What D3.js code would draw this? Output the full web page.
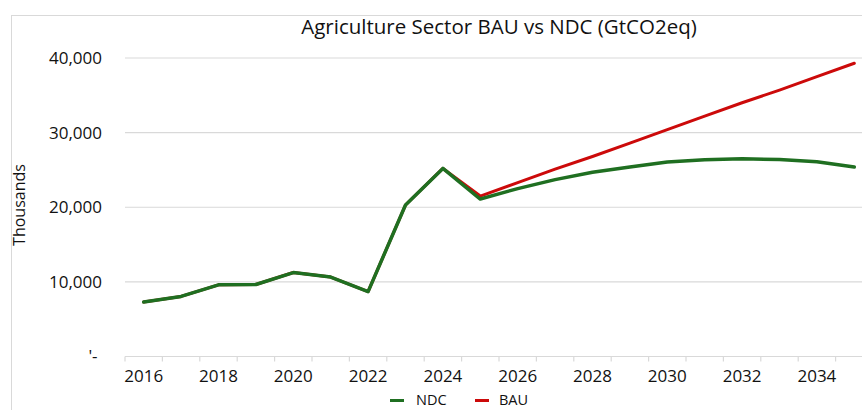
<!DOCTYPE html>
<html>
<head>
<meta charset="utf-8">
<script src="https://cdn.jsdelivr.net/npm/d3@7"></script>
<style>
  html, body { margin: 0; padding: 0; background: #ffffff; }
  svg { display: block; }
  text { font-family: "Open Sans", "Liberation Sans", sans-serif; fill: #111111; }
</style>
</head>
<body>
<svg id="chart" width="862" height="410"></svg>
<script>
// ---- data ----
const years = [2016, 2017, 2018, 2019, 2020, 2021, 2022, 2023, 2024, 2025,
               2026, 2027, 2028, 2029, 2030, 2031, 2032, 2033, 2034, 2035];
const ndcValues = [7300, 8050, 9600, 9650, 11250, 10650, 8700, 20300, 25200, 21100,
                   22500, 23700, 24700, 25400, 26050, 26350, 26500, 26400, 26100, 25400];
const bauValues = [7300, 8050, 9600, 9650, 11250, 10650, 8700, 20300, 25200, 21500,
                   23300, 25100, 26800, 28600, 30400, 32200, 34000, 35700, 37500, 39300];
const yTicks = [0, 10000, 20000, 30000, 40000];
const xLabelYears = [2016, 2018, 2020, 2022, 2024, 2026, 2028, 2030, 2032, 2034];
const seriesNames = ["NDC", "BAU"];
const titleText = "Agriculture Sector BAU vs NDC (GtCO2eq)";
const yTitle = "Thousands";

// ---- layout ----
const W = 862, H = 410;
const plot = { left: 125, right: 873, top: 58, bottom: 356.5 };
const colors = { NDC: "#1f6f21", BAU: "#cc0a0a" };
const gridColor = "#d9d9d9";

const svg = d3.select("#chart");

// chart frame
svg.append("rect")
  .attr("x", 11.5).attr("y", 15.5)
  .attr("width", 900).attr("height", 450)
  .attr("fill", "none").attr("stroke", "#d9d9d9").attr("stroke-width", 1);

const x = d3.scaleBand().domain(years).range([plot.left, plot.right]).paddingInner(0).paddingOuter(0);
const y = d3.scaleLinear().domain([0, 40000]).range([plot.bottom, plot.top]);

// gridlines
svg.append("g")
  .selectAll("line")
  .data(yTicks.filter(d => d > 0))
  .join("line")
  .attr("x1", plot.left).attr("x2", plot.right)
  .attr("y1", d => y(d)).attr("y2", d => y(d))
  .attr("stroke", gridColor).attr("stroke-width", 1.2);

// y axis labels
const yAxis = d3.axisLeft(y)
  .tickValues(yTicks)
  .tickSize(0)
  .tickPadding(23)
  .tickFormat(d => d === 0 ? "'-\u00a0" : d3.format(",")(d));
const gy = svg.append("g").attr("transform", `translate(${plot.left},0)`).call(yAxis);
gy.select(".domain").remove();
gy.selectAll("text")
  .style("font-size", "17px")
  .style("font-family", "'Open Sans', sans-serif")
  .attr("fill", "#111111");

// x axis baseline + category boundary ticks
svg.append("line")
  .attr("x1", plot.left).attr("x2", plot.right)
  .attr("y1", plot.bottom).attr("y2", plot.bottom)
  .attr("stroke", gridColor).attr("stroke-width", 1.2);
svg.append("g")
  .selectAll("line")
  .data(years)
  .join("line")
  .attr("x1", d => x(d)).attr("x2", d => x(d))
  .attr("y1", plot.bottom).attr("y2", plot.bottom + 5)
  .attr("stroke", gridColor).attr("stroke-width", 1.2);

const xAxis = d3.axisBottom(x)
  .tickValues(xLabelYears)
  .tickSize(0)
  .tickPadding(13);
const gx = svg.append("g").attr("transform", `translate(0,${plot.bottom})`).call(xAxis);
gx.select(".domain").remove();
gx.selectAll("text")
  .style("font-size", "17px")
  .style("font-family", "'Open Sans', sans-serif")
  .attr("fill", "#111111");

// y axis title
svg.append("text")
  .attr("transform", `translate(25,205) rotate(-90)`)
  .attr("text-anchor", "middle")
  .style("font-size", "16px")
  .text(yTitle);

// title
svg.append("text")
  .attr("x", 499).attr("y", 34)
  .attr("text-anchor", "middle")
  .style("font-size", "20.5px")
  .text(titleText);

// lines
const line = d3.line()
  .x((d, i) => x(years[i]) + x.bandwidth() / 2)
  .y(d => y(d));

svg.append("path")
  .datum(bauValues)
  .attr("d", line)
  .attr("fill", "none")
  .attr("stroke", colors.BAU)
  .attr("stroke-width", 3)
  .attr("stroke-linejoin", "round")
  .attr("stroke-linecap", "round");

svg.append("path")
  .datum(ndcValues)
  .attr("d", line)
  .attr("fill", "none")
  .attr("stroke", colors.NDC)
  .attr("stroke-width", 3.5)
  .attr("stroke-linejoin", "round")
  .attr("stroke-linecap", "round");

// legend
const legendItems = [
  { name: seriesNames[0], sx: 390, tx: 416 },
  { name: seriesNames[1], sx: 475, tx: 499 }
];
const lg = svg.append("g");
legendItems.forEach(it => {
  lg.append("line")
    .attr("x1", it.sx).attr("x2", it.sx + 14)
    .attr("y1", 400.5).attr("y2", 400.5)
    .attr("stroke", colors[it.name]).attr("stroke-width", 3);
  lg.append("text")
    .attr("x", it.tx).attr("y", 405)
    .style("font-size", "14.5px")
    .text(it.name);
});
</script>
</body>
</html>
